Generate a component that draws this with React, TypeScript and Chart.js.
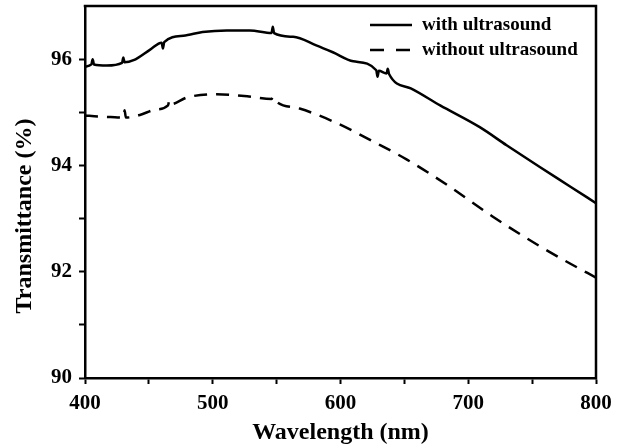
import { useEffect, useRef } from "react";
import { Chart, registerables } from "chart.js";

Chart.register(...registerables);

// ---- data ----
const seriesLabels = ["with ultrasound", "without ultrasound"];

const wavelengthWith = [
  400, 405, 406, 407, 417, 429, 430, 431, 438, 451, 460, 461, 462, 477, 492, 511, 529,
  546, 547, 548, 563, 581, 594, 610, 628, 629, 630, 636, 637, 638, 655, 678, 709, 730,
  756, 780, 800,
];
const withUltrasound = [
  95.86, 95.9, 96.0, 95.9, 95.88, 95.93, 96.03, 95.94, 95.98, 96.18, 96.31, 96.2, 96.32,
  96.44, 96.51, 96.54, 96.54, 96.49, 96.61, 96.49, 96.42, 96.26, 96.13, 95.96, 95.79, 95.67,
  95.78, 95.73, 95.82, 95.72, 95.45, 95.13, 94.72, 94.38, 93.97, 93.6, 93.29,
];

const wavelengthWithout = [
  400, 410, 420, 430, 431, 432, 443, 455, 465, 466, 467, 480, 503, 527, 546, 547, 548, 568,
  594, 628, 652, 683, 719, 756, 780, 800,
];
const withoutUltrasound = [
  94.94, 94.92, 94.91, 94.9, 95.04, 94.9, 94.95, 95.05, 95.13, 95.22, 95.15, 95.28, 95.34,
  95.3, 95.25, 95.29, 95.24, 95.07, 94.83, 94.42, 94.11, 93.64, 93.04, 92.48, 92.15, 91.89,
];

const xMin = 400;
const xMax = 800;
const xStep = 50;
const xTickLabels = [400, 500, 600, 700, 800];

const yMin = 90;
const yMax = 97;
const yStep = 1;
const yTickLabels = [90, 92, 94, 96];

const xTitle = "Wavelength (nm)";
const yTitle = "Transmittance (%)";

const FONT = "'Liberation Serif', 'Times New Roman', serif";

const framePlugin = {
  id: "frame",
  afterDraw(chart: any) {
    const { ctx, chartArea } = chart;
    ctx.save();
    ctx.strokeStyle = "#000";
    ctx.lineWidth = 2.5;
    ctx.beginPath();
    ctx.moveTo(chartArea.left - 1.25, chartArea.top);
    ctx.lineTo(chartArea.right, chartArea.top);
    ctx.lineTo(chartArea.right, chartArea.bottom + 1.25);
    ctx.stroke();
    ctx.restore();
  },
};

const innerLegendPlugin = {
  id: "innerLegend",
  afterDraw(chart: any) {
    const { ctx, chartArea } = chart;
    ctx.save();
    chart.data.datasets.forEach((ds: any, i: number) => {
      const y = chartArea.top + 19 + i * 25;
      const x1 = chartArea.left + 285;
      const x2 = x1 + 42;
      ctx.strokeStyle = ds.borderColor;
      ctx.lineWidth = ds.borderWidth;
      ctx.setLineDash(ds.borderDash ? [14, 12] : []);
      ctx.beginPath();
      ctx.moveTo(x1, y);
      ctx.lineTo(x2, y);
      ctx.stroke();
      ctx.setLineDash([]);
      ctx.fillStyle = "#000";
      ctx.font = `bold 19px ${FONT}`;
      ctx.textBaseline = "middle";
      ctx.textAlign = "left";
      ctx.fillText(ds.label, x2 + 10, y);
    });
    ctx.restore();
  },
};

export default function App() {
  const canvasRef = useRef<HTMLCanvasElement | null>(null);

  useEffect(() => {
    const canvas = canvasRef.current;
    if (!canvas) return;
    const chart = new Chart(canvas, {
      type: "line",
      data: {
        datasets: [
          {
            label: seriesLabels[0],
            data: wavelengthWith.map((x, i) => ({ x, y: withUltrasound[i] })),
            borderColor: "#000",
            borderWidth: 2.5,
            pointRadius: 0,
            tension: 0.3,
            cubicInterpolationMode: "monotone",
          },
          {
            label: seriesLabels[1],
            data: wavelengthWithout.map((x, i) => ({ x, y: withoutUltrasound[i] })),
            borderColor: "#000",
            borderWidth: 2.5,
            borderDash: [13, 9],
            pointRadius: 0,
            tension: 0.3,
            cubicInterpolationMode: "monotone",
          },
        ],
      },
      options: {
        responsive: false,
        animation: false,
        devicePixelRatio: 1,
        layout: { padding: { top: 6, right: 28, left: 0, bottom: 0 } },
        plugins: {
          legend: { display: false },
          tooltip: { enabled: false },
        },
        scales: {
          x: {
            type: "linear",
            min: xMin,
            max: xMax,
            afterFit(scale: any) {
              scale.height = 69;
            },
            border: { display: true, color: "#000", width: 2.5 },
            grid: {
              display: true,
              drawOnChartArea: false,
              drawTicks: true,
              tickLength: 6,
              tickWidth: 2,
              tickColor: "#000",
            },
            ticks: {
              stepSize: xStep,
              autoSkip: false,
              maxRotation: 0,
              padding: 7,
              color: "#000",
              font: { family: FONT, size: 21, weight: "bold" },
              callback: (v: any) => (xTickLabels.includes(Number(v)) ? String(v) : ""),
            },
            title: {
              display: true,
              text: xTitle,
              color: "#000",
              font: { family: FONT, size: 24, weight: "bold" },
              padding: { top: 0, bottom: 0 },
            },
          },
          y: {
            type: "linear",
            min: yMin,
            max: yMax,
            afterFit(scale: any) {
              scale.width = 85;
              scale.paddingTop = 0;
              scale.paddingBottom = 0;
            },
            border: { display: true, color: "#000", width: 2.5 },
            grid: {
              display: true,
              drawOnChartArea: false,
              drawTicks: true,
              tickLength: 6,
              tickWidth: 2,
              tickColor: (c: any) =>
                c.tick && c.tick.value === yMax ? "rgba(0,0,0,0)" : "#000",
            },
            ticks: {
              stepSize: yStep,
              autoSkip: false,
              padding: 7,
              color: "#000",
              font: { family: FONT, size: 21, weight: "bold" },
              callback: (v: any) => (yTickLabels.includes(Number(v)) ? String(v) : ""),
            },
            title: {
              display: true,
              text: yTitle + "        ",
              color: "#000",
              font: { family: FONT, size: 24, weight: "bold" },
              padding: { top: 10, bottom: 0 },
            },
          },
        },
      },
      plugins: [framePlugin, innerLegendPlugin],
    } as any);
    return () => chart.destroy();
  }, []);

  return (
    <div
      style={{
        position: "absolute",
        left: 0,
        top: 0,
        width: 624,
        height: 447,
        background: "#fff",
      }}
    >
      <canvas ref={canvasRef} width={624} height={447} style={{ display: "block" }} />
    </div>
  );
}
